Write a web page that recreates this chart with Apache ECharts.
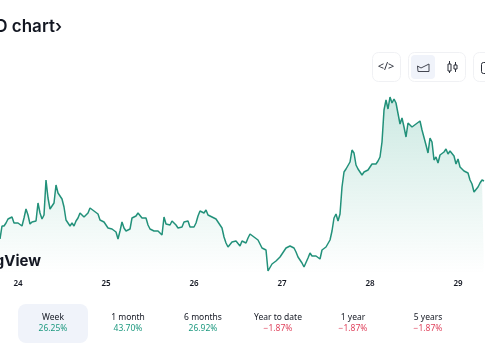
<!DOCTYPE html>
<html><head><meta charset="utf-8">
<style>html,body{margin:0;padding:0;background:#fff;overflow:hidden}#c{width:485px;height:360px}</style>
<script src="https://cdn.jsdelivr.net/npm/echarts@6/dist/echarts.min.js"></script>
</head><body><div id="c"></div>
<script>
const firstDay = 23.7955;
const samplesPerDay = 44;
const prices = [34,47,47,50,54,56,56,50,48,50,49,47,55,64,58,49,51,50,52,70,60,54,58,93,75,64,66,70,88,80,79,74,66,53,50,47,50,47,52,55,60,59,56,56,60,65,64,62,61,59,53,54,51,51,45,43,44,45,41,34,42,51,45,42,44,44,55,56,57,60,58,55,53,55,48,44,44,42,44,42,40,38,56,49,50,48,52,53,48,45,46,46,51,51,52,46,45,46,50,57,62,62,60,63,58,58,56,56,54,51,48,45,36,30,26,28,31,31,32,30,27,32,31,30,35,39,39,36,35,33,29,25,26,23,2,4,9,10,12,14,16,19,21,25,26,27,27,25,21,16,18,10,6,7,15,20,17,18,17,16,14,23,25,26,28,33,42,55,59,52,59,86,101,104,102,111,123,120,108,104,102,98,101,103,103,105,109,110,109,112,116,131,163,173,164,176,170,174,170,168,149,155,146,136,150,151,146,144,149,148,152,143,141,128,120,135,131,113,116,110,118,120,121,124,119,122,124,117,109,114,106,104,102,100,100,93,89,81,81,86,90,93,92];
const periods = ['Week','1 month','6 months','Year to date','1 year','5 years'];
const changes = ['26.25%','43.70%','26.92%','−1.87%','−1.87%','−1.87%'];
const titleText = 'USD chart›';
const brand = 'TradingView';

const FONT = '"Noto Sans", Inter, sans-serif';
const points = prices.map((v, i) => [firstDay + i / samplesPerDay, v]);
const chart = echarts.init(document.getElementById('c'), null, {renderer: 'canvas'});

const gfx = [];
gfx.push({type:'text', x:62, y:27, style:{text:titleText, align:'right', verticalAlign:'middle', font:'600 17px Inter, sans-serif', fill:'#131722'}});
gfx.push({type:'text', x:41, y:261, z:5, style:{text:brand, align:'right', verticalAlign:'middle', font:'700 15px Inter, sans-serif', fill:'#131722'}});
const btnBorder = '#f0f1f4';
[[372,52,28,29],[408,52,57,29],[473,52,40,29]].forEach(b => gfx.push({type:'rect', shape:{x:b[0]+.5,y:b[1]+.5,width:b[2],height:b[3],r:6}, style:{fill:'#fff',stroke:btnBorder,lineWidth:1}}));
gfx.push({type:'rect', shape:{x:411,y:55,width:24,height:24,r:4}, style:{fill:'#f0f3fa'}});
gfx.push({type:'text', x:386, y:67, style:{text:'</>', align:'center', verticalAlign:'middle', font:'11px "Noto Sans", sans-serif', fill:'#2a2e39'}});
gfx.push({type:'polyline', shape:{points:[[418,71.5],[417.5,66],[421,68],[429,64],[429,71.5],[418,71.5]]}, style:{fill:'none',stroke:'#434651',lineWidth:1}});
gfx.push({type:'line', shape:{x1:449.5,y1:61,x2:449.5,y2:73}, style:{stroke:'#2a2e39',lineWidth:1}});
gfx.push({type:'rect', shape:{x:448,y:64,width:3,height:7}, style:{fill:'#fff',stroke:'#2a2e39',lineWidth:1}});
gfx.push({type:'line', shape:{x1:455.5,y1:62,x2:455.5,y2:72}, style:{stroke:'#2a2e39',lineWidth:1}});
gfx.push({type:'rect', shape:{x:454,y:65,width:3,height:4}, style:{fill:'#fff',stroke:'#2a2e39',lineWidth:1}});
gfx.push({type:'rect', shape:{x:481.5,y:62.5,width:10,height:11,r:2}, style:{fill:'none',stroke:'#2a2e39',lineWidth:1}});
gfx.push({type:'rect', shape:{x:18,y:304,width:70,height:39,r:8}, style:{fill:'#f0f3fa'}});
periods.forEach((p, i) => {
  const cx = 53 + i * 75;
  gfx.push({type:'text', x:cx, y:318, style:{text:p, align:'center', verticalAlign:'middle', font:'8.5px '+FONT, fill:'#131722'}});
  gfx.push({type:'text', x:cx, y:329, style:{text:changes[i], align:'center', verticalAlign:'middle', font:'8.5px '+FONT, fill:changes[i][0]==='−' ? '#e0455f' : '#1f9a80'}});
});

chart.setOption({
  animation:false,
  grid:{left:-70, top:60, width:616, height:213, containLabel:false, outerBoundsMode:'none'},
  xAxis:{type:'value', min:23, max:30, interval:1,
    axisLine:{show:false}, axisTick:{show:false}, splitLine:{show:false},
    axisLabel:{margin:7, fontSize:8, fontWeight:600, fontFamily:FONT, color:'#131722', hideOverlap:false, showMinLabel:false, showMaxLabel:false}},
  yAxis:{type:'value', min:0, max:213, show:false},
  series:[{type:'line', data:points, showSymbol:false, symbol:'none', smooth:false,
    lineStyle:{color:'#22917a', width:1.5},
    areaStyle:{color:new echarts.graphic.LinearGradient(0,0,0,1,[{offset:0,color:'rgba(34,160,130,0.33)'},{offset:1,color:'rgba(34,160,130,0)'}])}}],
  graphic:gfx
});
</script></body></html>
